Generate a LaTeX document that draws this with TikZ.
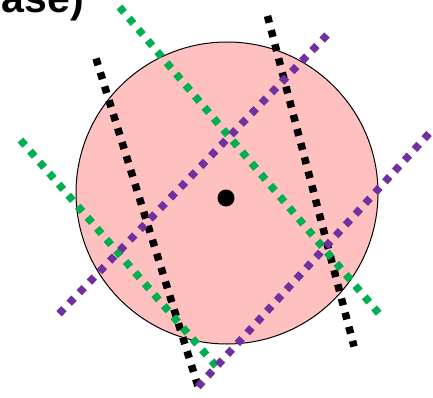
\documentclass[tikz,border=0pt]{standalone}
\usepackage{fontspec}
\setmainfont{Liberation Sans}
\usepackage{xcolor}
\definecolor{pinkfill}{RGB}{255,192,192}
\definecolor{dotgreen}{RGB}{0,176,80}
\definecolor{dotpurple}{RGB}{112,48,160}

\begin{document}
\begin{tikzpicture}[x=1pt,y=-1pt]
\tikzset{cut/.style={line width=7.5pt,dash pattern=on 7pt off 7.6pt}}
\useasboundingbox (0,0) rectangle (433,398);
\node[anchor=base east,inner sep=0pt,font=\fontsize{41}{44}\selectfont\bfseries] (title) at (84,12.5) {ase)};
\coordinate (c) at (227,193);
\draw[fill=pinkfill,line width=1pt] (c) circle (151pt);
\fill (226,198) circle (8.5pt);
% black cuts
\draw[cut,black] (96,58.5)--(199,389.5);
\draw[cut,black] (267.5,16)--(354,346.5);
% green cuts
\draw[cut,dotgreen] (119.5,7)--(381,316);
\draw[cut,dotgreen] (20.5,140)--(219.5,370);
% purple cuts
\draw[cut,dotpurple] (327,35)--(54,319);
\draw[cut,dotpurple] (429,133.5)--(195,390);
\end{tikzpicture}
\end{document}
